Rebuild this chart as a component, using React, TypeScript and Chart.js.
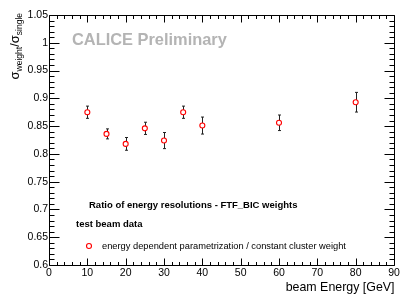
import React, { useEffect, useRef } from "react";
import { Chart, registerables } from "chart.js";

Chart.register(...registerables);

const energies = [10, 15, 20, 25, 30, 35, 40, 60, 80];
const ratios = [0.875, 0.836, 0.818, 0.846, 0.824, 0.875, 0.851, 0.856, 0.893];
const errors = [0.011, 0.009, 0.0115, 0.011, 0.0145, 0.011, 0.0153, 0.014, 0.0177];
const xTicks = [0, 10, 20, 30, 40, 50, 60, 70, 80, 90];
const yTicks = [0.6, 0.65, 0.7, 0.75, 0.8, 0.85, 0.9, 0.95, 1.0, 1.05];
const xMinorStep = 2;
const yMinorStep = 0.01;
const xTitle = "beam Energy [GeV]";
const legendTitle = "Ratio of energy resolutions - FTF_BIC weights";
const legendSub = "test beam data";
const seriesLabel = "energy dependent parametrization / constant cluster weight";
const watermark = "CALICE Preliminary";

const FONT = "'Liberation Sans', Arial, Helvetica, sans-serif";
const RED = "#ff0000";

const rootPlugin = {
  id: "rootStyle",
  beforeDatasetsDraw(chart: any) {
    const ctx = chart.ctx;
    const xs = chart.scales.x;
    const ys = chart.scales.y;
    ctx.save();
    ctx.strokeStyle = "#222";
    ctx.lineWidth = 1;
    energies.forEach((e, i) => {
      const px = Math.round(xs.getPixelForValue(e)) + 0.5;
      const y1 = ys.getPixelForValue(ratios[i] + errors[i]);
      const y2 = ys.getPixelForValue(ratios[i] - errors[i]);
      ctx.beginPath();
      ctx.moveTo(px, y1);
      ctx.lineTo(px, y2);
      ctx.moveTo(px - 1.5, y1);
      ctx.lineTo(px + 1.5, y1);
      ctx.moveTo(px - 1.5, y2);
      ctx.lineTo(px + 1.5, y2);
      ctx.stroke();
    });
    ctx.restore();
  },
  afterDraw(chart: any) {
    const ctx = chart.ctx;
    const xs = chart.scales.x;
    const ys = chart.scales.y;
    const a = chart.chartArea;
    const L = Math.round(a.left) + 0.5;
    const R = Math.round(a.right) + 0.5;
    const T = Math.round(a.top) + 0.5;
    const B = Math.round(a.bottom) + 0.5;
    ctx.save();
    ctx.strokeStyle = "#000";
    ctx.lineWidth = 1;
    ctx.beginPath();
    ctx.rect(L, T, R - L, B - T);
    ctx.stroke();

    // x ticks (bottom and top)
    ctx.beginPath();
    const xmin = xTicks[0];
    const xmax = xTicks[xTicks.length - 1];
    for (let v = xmin; v <= xmax + 1e-9; v += xMinorStep) {
      const isMajor = xTicks.some((t) => Math.abs(t - v) < 1e-6);
      const len = isMajor ? 7 : 3.5;
      const px = Math.round(xs.getPixelForValue(v)) + 0.5;
      ctx.moveTo(px, B);
      ctx.lineTo(px, B - len);
      ctx.moveTo(px, T);
      ctx.lineTo(px, T + len);
    }
    const ymin = yTicks[0];
    const ymax = yTicks[yTicks.length - 1];
    const nY = Math.round((ymax - ymin) / yMinorStep);
    for (let k = 0; k <= nY; k++) {
      const v = ymin + k * yMinorStep;
      const isMajor = yTicks.some((t) => Math.abs(t - v) < 1e-6);
      const len = isMajor ? 10 : 5;
      const py = Math.round(ys.getPixelForValue(v)) + 0.5;
      ctx.moveTo(L, py);
      ctx.lineTo(L + len, py);
      ctx.moveTo(R, py);
      ctx.lineTo(R - len, py);
    }
    ctx.stroke();

    // watermark
    ctx.fillStyle = "#b4b4b4";
    ctx.font = `bold 16.4px ${FONT}`;
    ctx.textBaseline = "alphabetic";
    ctx.textAlign = "left";
    ctx.fillText(watermark, 72, 45);

    // legend
    ctx.fillStyle = "#000";
    ctx.font = `bold 9.5px ${FONT}`;
    ctx.fillText(legendTitle, 89, 208);
    ctx.fillText(legendSub, 76, 227);
    ctx.font = `9.3px ${FONT}`;
    ctx.fillText(seriesLabel, 102, 249);
    ctx.beginPath();
    ctx.arc(89, 246, 2.5, 0, Math.PI * 2);
    ctx.fillStyle = "#fff";
    ctx.fill();
    ctx.strokeStyle = RED;
    ctx.lineWidth = 1.1;
    ctx.stroke();

    // x title
    ctx.fillStyle = "#000";
    ctx.font = `12.4px ${FONT}`;
    ctx.textAlign = "right";
    ctx.fillText(xTitle, R, 291);

    // y title: sigma_weight / sigma_single, rotated
    const parts = [
      { t: "\u03c3", size: 13, dy: 0 },
      { t: "weight", size: 8.5, dy: 3 },
      { t: "/", size: 13, dy: 0 },
      { t: "\u03c3", size: 13, dy: 0 },
      { t: "single", size: 8.5, dy: 3 },
    ];
    let total = 0;
    parts.forEach((p) => {
      ctx.font = `${p.size}px ${FONT}`;
      total += ctx.measureText(p.t).width;
    });
    ctx.translate(19, 13 + total);
    ctx.rotate(-Math.PI / 2);
    ctx.textAlign = "left";
    let x = 0;
    parts.forEach((p) => {
      ctx.font = `${p.size}px ${FONT}`;
      ctx.fillText(p.t, x, p.dy);
      x += ctx.measureText(p.t).width;
    });
    ctx.restore();
  },
};

export default function App() {
  const ref = useRef<HTMLCanvasElement | null>(null);
  useEffect(() => {
    if (!ref.current) return;
    const chart = new Chart(ref.current, {
      type: "scatter",
      data: {
        datasets: [
          {
            label: seriesLabel,
            data: energies.map((e, i) => ({ x: e, y: ratios[i] })),
            pointStyle: "circle",
            pointRadius: 2.5,
            pointBorderWidth: 1.1,
            pointBorderColor: RED,
            pointBackgroundColor: "#ffffff",
            showLine: false,
          },
        ],
      },
      options: {
        responsive: false,
        animation: false,
        devicePixelRatio: 1,
        layout: { padding: { top: 15, right: 21, left: 0, bottom: 0 } },
        plugins: {
          legend: { display: false },
          tooltip: { enabled: false },
          title: { display: false },
        },
        events: [],
        scales: {
          x: {
            type: "linear",
            min: xTicks[0],
            max: xTicks[xTicks.length - 1],
            afterBuildTicks: (s: any) => {
              s.ticks = xTicks.map((v) => ({ value: v }));
            },
            afterFit: (s: any) => {
              s.height = 38;
            },
            grid: { display: false, drawTicks: false },
            border: { display: false },
            ticks: {
              color: "#000",
              font: { family: FONT, size: 10.5 },
              padding: 2,
              maxRotation: 0,
              autoSkip: false,
              callback: (v: any) => String(v),
            },
          },
          y: {
            type: "linear",
            min: yTicks[0],
            max: yTicks[yTicks.length - 1],
            afterBuildTicks: (s: any) => {
              s.ticks = yTicks.map((v) => ({ value: v }));
            },
            afterFit: (s: any) => {
              s.width = 49;
            },
            grid: { display: false, drawTicks: false },
            border: { display: false },
            ticks: {
              color: "#000",
              font: { family: FONT, size: 10.5 },
              padding: 1,
              autoSkip: false,
              callback: (v: any) => String(Number(Number(v).toFixed(2))),
            },
          },
        },
      },
      plugins: [rootPlugin],
    });
    return () => chart.destroy();
  }, []);
  return (
    <div style={{ position: "fixed", left: 0, top: 0, width: 415, height: 303, background: "#fff" }}>
      <canvas ref={ref} width={415} height={303} />
    </div>
  );
}
